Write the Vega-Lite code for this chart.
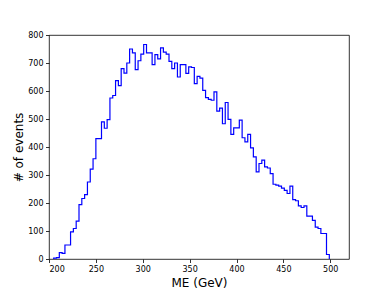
{
  "$schema": "https://vega.github.io/schema/vega-lite/v6.json",
  "width": 300,
  "height": 224,
  "autosize": {"type": "none"},
  "padding": {"left": 49, "top": 35, "right": 39, "bottom": 32},
  "background": "white",
  "config": {
    "view": {"stroke": "black", "strokeWidth": 0.8},
    "font": "DejaVu Sans",
    "axis": {
      "grid": false,
      "domain": false,
      "tickColor": "black",
      "tickWidth": 0.8,
      "tickSize": 3.5,
      "labelFont": "DejaVu Sans",
      "labelFontSize": 8,
      "labelColor": "black",
      "labelPadding": 2.5,
      "titleFont": "DejaVu Sans",
      "titleFontSize": 12,
      "titleFontWeight": "normal",
      "titleColor": "black"
    }
  },
  "data": {
    "values": [
      {"k": 0, "me": 205, "n": 0},
      {"k": 1, "me": 205, "n": 3},
      {"k": 2, "me": 208, "n": 5},
      {"k": 3, "me": 211, "n": 23},
      {"k": 4, "me": 214, "n": 20},
      {"k": 5, "me": 217, "n": 50},
      {"k": 6, "me": 220, "n": 50},
      {"k": 7, "me": 223, "n": 97},
      {"k": 8, "me": 226, "n": 109},
      {"k": 9, "me": 229, "n": 135},
      {"k": 10, "me": 232, "n": 194},
      {"k": 11, "me": 235, "n": 216},
      {"k": 12, "me": 238, "n": 230},
      {"k": 13, "me": 241, "n": 275},
      {"k": 14, "me": 244, "n": 321},
      {"k": 15, "me": 247, "n": 358},
      {"k": 16, "me": 250, "n": 430},
      {"k": 17, "me": 253, "n": 430},
      {"k": 18, "me": 256, "n": 490},
      {"k": 19, "me": 259, "n": 467},
      {"k": 20, "me": 262, "n": 498},
      {"k": 21, "me": 265, "n": 575},
      {"k": 22, "me": 268, "n": 584},
      {"k": 23, "me": 271, "n": 637},
      {"k": 24, "me": 274, "n": 619},
      {"k": 25, "me": 277, "n": 680},
      {"k": 26, "me": 280, "n": 664},
      {"k": 27, "me": 283, "n": 700},
      {"k": 28, "me": 286, "n": 750},
      {"k": 29, "me": 289, "n": 736},
      {"k": 30, "me": 292, "n": 676},
      {"k": 31, "me": 295, "n": 708},
      {"k": 32, "me": 298, "n": 732},
      {"k": 33, "me": 301, "n": 766},
      {"k": 34, "me": 304, "n": 736},
      {"k": 35, "me": 307, "n": 736},
      {"k": 36, "me": 310, "n": 694},
      {"k": 37, "me": 313, "n": 730},
      {"k": 38, "me": 316, "n": 715},
      {"k": 39, "me": 319, "n": 754},
      {"k": 40, "me": 322, "n": 739},
      {"k": 41, "me": 325, "n": 732},
      {"k": 42, "me": 328, "n": 706},
      {"k": 43, "me": 331, "n": 680},
      {"k": 44, "me": 334, "n": 700},
      {"k": 45, "me": 337, "n": 650},
      {"k": 46, "me": 340, "n": 694},
      {"k": 47, "me": 343, "n": 694},
      {"k": 48, "me": 346, "n": 663},
      {"k": 49, "me": 349, "n": 686},
      {"k": 50, "me": 352, "n": 684},
      {"k": 51, "me": 355, "n": 626},
      {"k": 52, "me": 358, "n": 652},
      {"k": 53, "me": 361, "n": 646},
      {"k": 54, "me": 364, "n": 602},
      {"k": 55, "me": 367, "n": 576},
      {"k": 56, "me": 370, "n": 570},
      {"k": 57, "me": 373, "n": 567},
      {"k": 58, "me": 376, "n": 597},
      {"k": 59, "me": 379, "n": 528},
      {"k": 60, "me": 382, "n": 539},
      {"k": 61, "me": 385, "n": 483},
      {"k": 62, "me": 388, "n": 559},
      {"k": 63, "me": 391, "n": 499},
      {"k": 64, "me": 394, "n": 445},
      {"k": 65, "me": 397, "n": 468},
      {"k": 66, "me": 400, "n": 468},
      {"k": 67, "me": 403, "n": 496},
      {"k": 68, "me": 406, "n": 433},
      {"k": 69, "me": 409, "n": 418},
      {"k": 70, "me": 412, "n": 445},
      {"k": 71, "me": 415, "n": 397},
      {"k": 72, "me": 418, "n": 365},
      {"k": 73, "me": 421, "n": 311},
      {"k": 74, "me": 424, "n": 341},
      {"k": 75, "me": 427, "n": 353},
      {"k": 76, "me": 430, "n": 329},
      {"k": 77, "me": 433, "n": 325},
      {"k": 78, "me": 436, "n": 305},
      {"k": 79, "me": 439, "n": 267},
      {"k": 80, "me": 442, "n": 264},
      {"k": 81, "me": 445, "n": 260},
      {"k": 82, "me": 448, "n": 253},
      {"k": 83, "me": 451, "n": 245},
      {"k": 84, "me": 454, "n": 234},
      {"k": 85, "me": 457, "n": 260},
      {"k": 86, "me": 460, "n": 212},
      {"k": 87, "me": 463, "n": 208},
      {"k": 88, "me": 466, "n": 190},
      {"k": 89, "me": 469, "n": 184},
      {"k": 90, "me": 472, "n": 190},
      {"k": 91, "me": 475, "n": 153},
      {"k": 92, "me": 478, "n": 153},
      {"k": 93, "me": 481, "n": 138},
      {"k": 94, "me": 484, "n": 114},
      {"k": 95, "me": 487, "n": 109},
      {"k": 96, "me": 490, "n": 91},
      {"k": 97, "me": 493, "n": 91},
      {"k": 98, "me": 496, "n": 16},
      {"k": 99, "me": 499, "n": 0}
    ]
  },
  "mark": {"type": "line", "interpolate": "step-after", "color": "#0000ff", "strokeWidth": 1.2, "clip": true},
  "encoding": {
    "x": {
      "field": "me",
      "type": "quantitative",
      "scale": {"domain": [200, 520], "nice": false, "zero": false},
      "axis": {"values": [200, 250, 300, 350, 400, 450, 500], "title": "ME (GeV)", "titleY": 27, "titleBaseline": "alphabetic"}
    },
    "y": {
      "field": "n",
      "type": "quantitative",
      "scale": {"domain": [0, 800], "nice": false},
      "axis": {"values": [0, 100, 200, 300, 400, 500, 600, 700, 800], "title": "# of events", "titleX": -27, "titleBaseline": "alphabetic"}
    },
    "order": {"field": "k", "type": "quantitative"}
  }
}
